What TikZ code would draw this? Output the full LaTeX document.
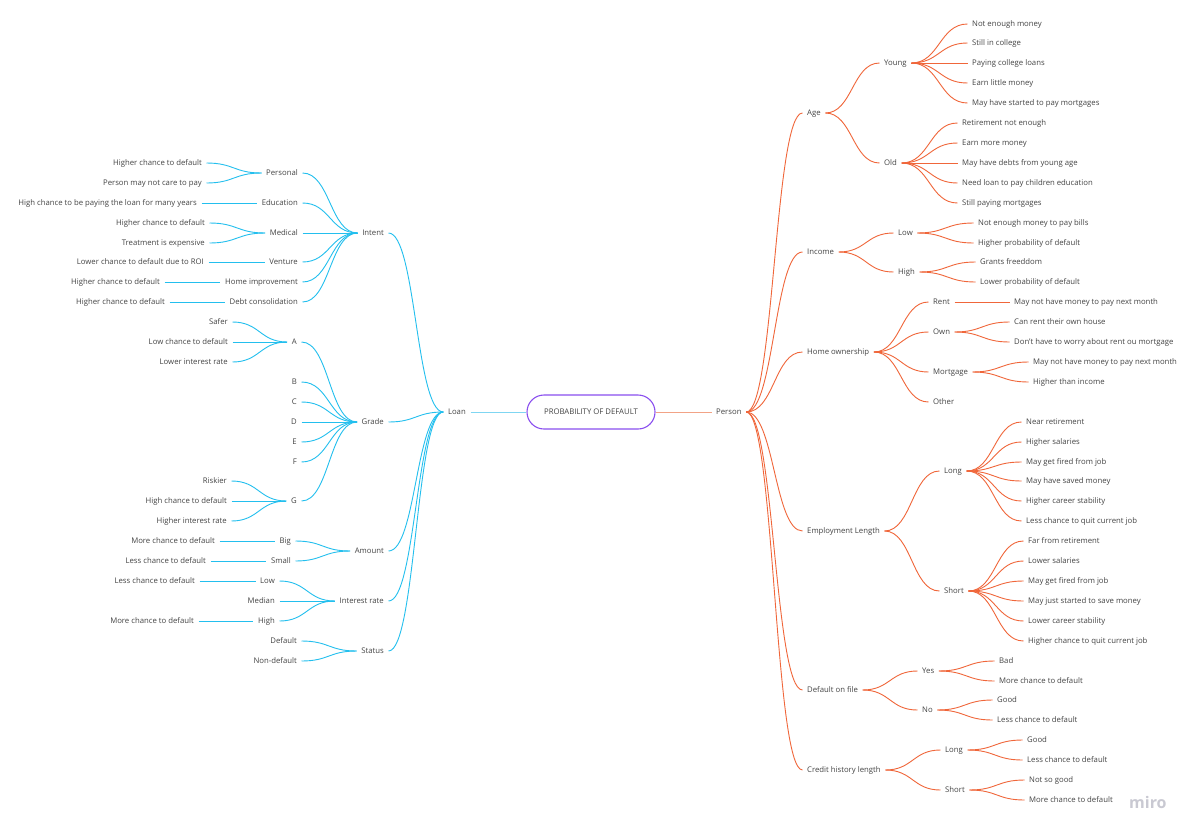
\documentclass[tikz,border=0pt]{standalone}
\usepackage{fontspec}
\setmainfont{Open Sans}
\usetikzlibrary{calc}
\definecolor{txtc}{HTML}{444444}
\definecolor{cy}{HTML}{23BFEE}
\definecolor{orr}{HTML}{F0663A}
\definecolor{cyl}{HTML}{7FD6F2}
\definecolor{orl}{HTML}{F2A386}
\definecolor{pur}{HTML}{8A4FEF}
\definecolor{mirog}{HTML}{C9C9D2}
\tikzset{
  txt/.style={font=\fontsize{7.75}{9}\selectfont, text=txtc, inner xsep=4.5pt, inner ysep=1pt, text height=5.8pt, text depth=1.6pt},
  L/.style={txt, anchor=east, xshift=4.5pt},
  R/.style={txt, anchor=west, xshift=-4.5pt},
  cl/.style={draw=cy, line width=0.9pt},
  ol/.style={draw=orr, line width=0.9pt},
}
\newcommand\lk[3]{\draw[#1] let \p1=(#2.east), \p2=(#3.west), \n1={(\x2-\x1)/2} in (\p1) .. controls +(\n1,0) and +(-\n1,0) .. (\p2);}
\begin{document}
\begin{tikzpicture}[x=1pt,y=-1pt]
\useasboundingbox[fill=white] (0,0) rectangle (1195,836);
% center
\node[draw=pur, line width=1.1pt, rounded corners=17pt, minimum width=128pt, minimum height=34pt, font=\fontsize{7.75}{9}\selectfont, text=txtc] (pod) at (591,412) {PROBABILITY OF DEFAULT};
% ---------- LEFT ----------
\node[L] (loan) at (466,412) {Loan};
\node[L] (intent) at (384,233) {Intent};
\node[L] (grade) at (384,422) {Grade};
\node[L] (amount) at (384,551) {Amount};
\node[L] (irate) at (384,601) {Interest rate};
\node[L] (status) at (384,651) {Status};
\node[L] (personal) at (298,173) {Personal};
\node[L] (education) at (298,203) {Education};
\node[L] (medical) at (298,233) {Medical};
\node[L] (venture) at (298,262) {Venture};
\node[L] (homeimp) at (298,282) {Home improvement};
\node[L] (debtc) at (298,302) {Debt consolidation};
\node[L] (per1) at (202,163) {Higher chance to default};
\node[L] (per2) at (202,183) {Person may not care to pay};
\node[L] (edu1) at (197,203) {High chance to be paying the loan for many years};
\node[L] (med1) at (205,223) {Higher chance to default};
\node[L] (med2) at (205,243) {Treatment is expensive};
\node[L] (ven1) at (204,262) {Lower chance to default due to ROI};
\node[L] (hom1) at (160,282) {Higher chance to default};
\node[L] (deb1) at (165,302) {Higher chance to default};
\node[L] (ga) at (297,342) {A};
\node[L] (gb) at (297,382) {B};
\node[L] (gc) at (297,402) {C};
\node[L] (gd) at (297,422) {D};
\node[L] (ge) at (297,442) {E};
\node[L] (gf) at (297,462) {F};
\node[L] (gg) at (297,501) {G};
\node[L] (a1) at (228,322) {Safer};
\node[L] (a2) at (228,342) {Low chance to default};
\node[L] (a3) at (228,362) {Lower interest rate};
\node[L] (g1) at (227,481) {Riskier};
\node[L] (g2) at (227,501) {High chance to default};
\node[L] (g3) at (227,521) {Higher interest rate};
\node[L] (big) at (291,541) {Big};
\node[L] (small) at (291,561) {Small};
\node[L] (big1) at (215,541) {More chance to default};
\node[L] (small1) at (206,561) {Less chance to default};
\node[L] (rlow) at (275,581) {Low};
\node[L] (rmed) at (275,601) {Median};
\node[L] (rhigh) at (275,621) {High};
\node[L] (rlow1) at (195,581) {Less chance to default};
\node[L] (rhigh1) at (194,621) {More chance to default};
\node[L] (sdef) at (297,641) {Default};
\node[L] (snon) at (297,661) {Non-default};
% left links
\draw[cyl, line width=1pt] (loan.east) -- (pod.west);
\foreach \c in {intent,grade,amount,irate,status} {\lk{cl}{\c}{loan}}
\foreach \c in {personal,education,medical,venture,homeimp,debtc} {\lk{cl}{\c}{intent}}
\lk{cl}{per1}{personal}\lk{cl}{per2}{personal}
\lk{cl}{edu1}{education}
\lk{cl}{med1}{medical}\lk{cl}{med2}{medical}
\lk{cl}{ven1}{venture}
\lk{cl}{hom1}{homeimp}
\lk{cl}{deb1}{debtc}
\foreach \c in {ga,gb,gc,gd,ge,gf,gg} {\lk{cl}{\c}{grade}}
\foreach \c in {a1,a2,a3} {\lk{cl}{\c}{ga}}
\foreach \c in {g1,g2,g3} {\lk{cl}{\c}{gg}}
\lk{cl}{big}{amount}\lk{cl}{small}{amount}
\lk{cl}{big1}{big}\lk{cl}{small1}{small}
\foreach \c in {rlow,rmed,rhigh} {\lk{cl}{\c}{irate}}
\lk{cl}{rlow1}{rlow}\lk{cl}{rhigh1}{rhigh}
\lk{cl}{sdef}{status}\lk{cl}{snon}{status}
% ---------- RIGHT ----------
\node[R] (person) at (716,412) {Person};
\node[R] (age) at (807,113) {Age};
\node[R] (income) at (807,252) {Income};
\node[R] (home) at (807,352) {Home ownership};
\node[R] (emp) at (807,531) {Employment Length};
\node[R] (dof) at (807,690) {Default on file};
\node[R] (chl) at (807,770) {Credit history length};
\node[R] (young) at (884,63) {Young};
\node[R] (old) at (884,163) {Old};
\node[R] (y1) at (972,24) {Not enough money};
\node[R] (y2) at (972,43) {Still in college};
\node[R] (y3) at (972,63) {Paying college loans};
\node[R] (y4) at (972,83) {Earn little money};
\node[R] (y5) at (972,103) {May have started to pay mortgages};
\node[R] (o1) at (962,123) {Retirement not enough};
\node[R] (o2) at (962,143) {Earn more money};
\node[R] (o3) at (962,163) {May have debts from young age};
\node[R] (o4) at (962,183) {Need loan to pay children education};
\node[R] (o5) at (962,203) {Still paying mortgages};
\node[R] (ilow) at (898,233) {Low};
\node[R] (ihigh) at (898,272) {High};
\node[R] (il1) at (978,223) {Not enough money to pay bills};
\node[R] (il2) at (978,243) {Higher probability of default};
\node[R] (ih1) at (980,262) {Grants freeddom};
\node[R] (ih2) at (980,282) {Lower probability of default};
\node[R] (rent) at (933,302) {Rent};
\node[R] (own) at (933,332) {Own};
\node[R] (mortg) at (933,372) {Mortgage};
\node[R] (other) at (933,402) {Other};
\node[R] (rent1) at (1014,302) {May not have money to pay next month};
\node[R] (own1) at (1014,322) {Can rent their own house};
\node[R] (own2) at (1014,342) {Don't have to worry about rent ou mortgage};
\node[R] (mort1) at (1033,362) {May not have money to pay next month};
\node[R] (mort2) at (1033,382) {Higher than income};
\node[R] (elong) at (944,471) {Long};
\node[R] (eshort) at (944,591) {Short};
\node[R] (el1) at (1026,422) {Near retirement};
\node[R] (el2) at (1026,442) {Higher salaries};
\node[R] (el3) at (1026,462) {May get fired from job};
\node[R] (el4) at (1026,481) {May have saved money};
\node[R] (el5) at (1026,501) {Higher career stability};
\node[R] (el6) at (1026,521) {Less chance to quit current job};
\node[R] (es1) at (1028,541) {Far from retirement};
\node[R] (es2) at (1028,561) {Lower salaries};
\node[R] (es3) at (1028,581) {May get fired from job};
\node[R] (es4) at (1028,601) {May just started to save money};
\node[R] (es5) at (1028,621) {Lower career stability};
\node[R] (es6) at (1028,641) {Higher chance to quit current job};
\node[R] (yes) at (922,671) {Yes};
\node[R] (no) at (922,710) {No};
\node[R] (yes1) at (999,661) {Bad};
\node[R] (yes2) at (999,681) {More chance to default};
\node[R] (no1) at (997,700) {Good};
\node[R] (no2) at (997,720) {Less chance to default};
\node[R] (clong) at (945,750) {Long};
\node[R] (cshort) at (945,790) {Short};
\node[R] (cl1) at (1027,740) {Good};
\node[R] (cl2) at (1027,760) {Less chance to default};
\node[R] (cs1) at (1029,780) {Not so good};
\node[R] (cs2) at (1029,800) {More chance to default};
% right links
\draw[orl, line width=1pt] (pod.east) -- (person.west);
\foreach \c in {age,income,home,emp,dof,chl} {\lk{ol}{person}{\c}}
\lk{ol}{age}{young}\lk{ol}{age}{old}
\foreach \c in {y1,y2,y3,y4,y5} {\lk{ol}{young}{\c}}
\foreach \c in {o1,o2,o3,o4,o5} {\lk{ol}{old}{\c}}
\lk{ol}{income}{ilow}\lk{ol}{income}{ihigh}
\lk{ol}{ilow}{il1}\lk{ol}{ilow}{il2}
\lk{ol}{ihigh}{ih1}\lk{ol}{ihigh}{ih2}
\foreach \c in {rent,own,mortg,other} {\lk{ol}{home}{\c}}
\lk{ol}{rent}{rent1}
\lk{ol}{own}{own1}\lk{ol}{own}{own2}
\lk{ol}{mortg}{mort1}\lk{ol}{mortg}{mort2}
\lk{ol}{emp}{elong}\lk{ol}{emp}{eshort}
\foreach \c in {el1,el2,el3,el4,el5,el6} {\lk{ol}{elong}{\c}}
\foreach \c in {es1,es2,es3,es4,es5,es6} {\lk{ol}{eshort}{\c}}
\lk{ol}{dof}{yes}\lk{ol}{dof}{no}
\lk{ol}{yes}{yes1}\lk{ol}{yes}{yes2}
\lk{ol}{no}{no1}\lk{ol}{no}{no2}
\lk{ol}{chl}{clong}\lk{ol}{chl}{cshort}
\lk{ol}{clong}{cl1}\lk{ol}{clong}{cl2}
\lk{ol}{cshort}{cs1}\lk{ol}{cshort}{cs2}
% watermark
\node[font=\fontsize{16}{18}\selectfont\bfseries, text=mirog, anchor=west, inner sep=0pt] (miro) at (1129,802) {miro};
\end{tikzpicture}
\end{document}
